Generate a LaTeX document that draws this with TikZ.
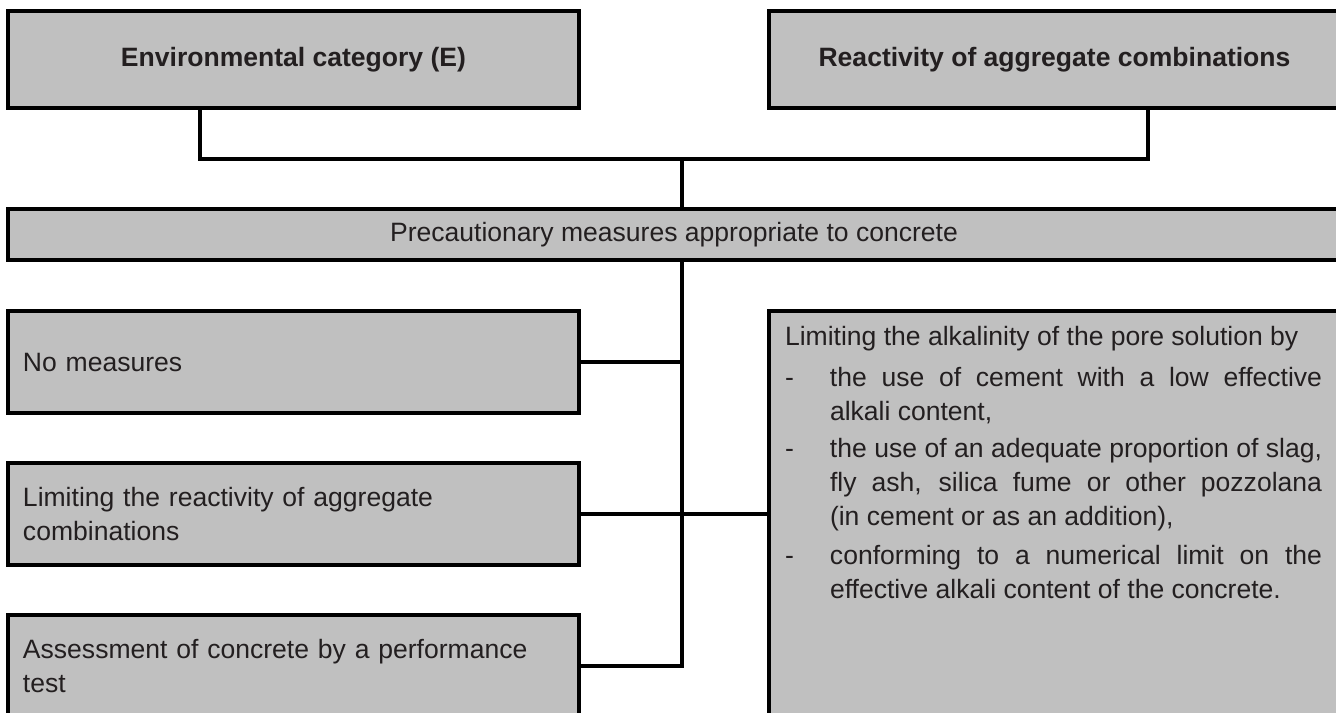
\documentclass[tikz,border=0pt]{standalone}
\usepackage{fontspec}
\setmainfont{Liberation Sans}
\usepackage{tikz}
\usepackage{xcolor}
\usetikzlibrary{positioning, calc}
\definecolor{boxgray}{RGB}{192, 192, 192}
\definecolor{inkgray}{RGB}{35, 31, 32}
\newcommand{\diagfont}{\fontsize{15.1pt}{19.4pt}\selectfont}
\newcommand{\spreadline}[1]{\makebox[\linewidth][s]{#1}}
\newcommand{\dashitem}[1]{\makebox[0.9cm][l]{-}\parbox[t]{9.84cm}{#1}}

\begin{document}
\begin{tikzpicture}[
    box/.style={rectangle, draw, line width=2.2pt, fill=boxgray, text=inkgray,
                font=\diagfont, inner xsep=0.3cm, inner ysep=0pt},
    titlebox/.style={box, font=\diagfont\bfseries, minimum width=11.42cm, minimum height=1.94cm, align=center},
    measure/.style={box, text width=10.82cm, minimum height=2.04cm, align=left},
    link/.style={line width=1.9pt}]

    \useasboundingbox (0, 0) rectangle (26.72, -14.26);

    % Inputs
    \node[titlebox] (envcat) at (5.87, -1.19) {Environmental category (E)};
    \node[titlebox] (reactagg) at (21.09, -1.19) {Reactivity of aggregate combinations};

    % Precautions
    \node[box, minimum width=26.64cm, minimum height=1.02cm] (precaution) at (13.48, -4.69)
        {Precautionary measures appropriate to concrete};

    % Measures
    \node[measure] (nomeasure) at (5.87, -7.24) {No measures};
    \node[measure] (limreact) at (5.87, -10.28) {Limiting the reactivity of aggregate\\combinations};
    \node[measure] (perftest) at (5.87, -13.32) {Assessment of concrete by a performance\\test};
    \node[box, inner xsep=0.32cm, inner ysep=0.3cm] (limalkali) at (21.07, -10.82)
        {\parbox[c][8.6cm][t]{10.74cm}{%
        Limiting the alkalinity of the pore solution by\\[4pt]
        \dashitem{\spreadline{the use of cement with a low effective}\\alkali content,}\\[7pt]
        \dashitem{\spreadline{the use of an adequate proportion of slag,}\\
                  \spreadline{fly ash, silica fume or other pozzolana}\\
                  (in cement or as an addition),}\\[7pt]
        \dashitem{\spreadline{conforming to a numerical limit on the}\\
                  effective alkali content of the concrete.}}};

    % Junctions
    \coordinate (leftturn) at (4.0, -3.18);
    \coordinate (rightturn) at (22.96, -3.18);
    \coordinate (hub) at (13.64, -3.18);

    % Lines
    \draw[link] (envcat.south -| leftturn) -- (leftturn) -- (rightturn) -- (reactagg.south -| rightturn);
    \draw[link] (hub) -- (precaution.north -| hub);
    \draw[link] (precaution.south -| hub) |- (perftest.east);
    \draw[link] (nomeasure.east) -- (nomeasure.east -| hub);
    \draw[link] (limreact.east) -- (limreact.east -| limalkali.west);
\end{tikzpicture}
\end{document}
